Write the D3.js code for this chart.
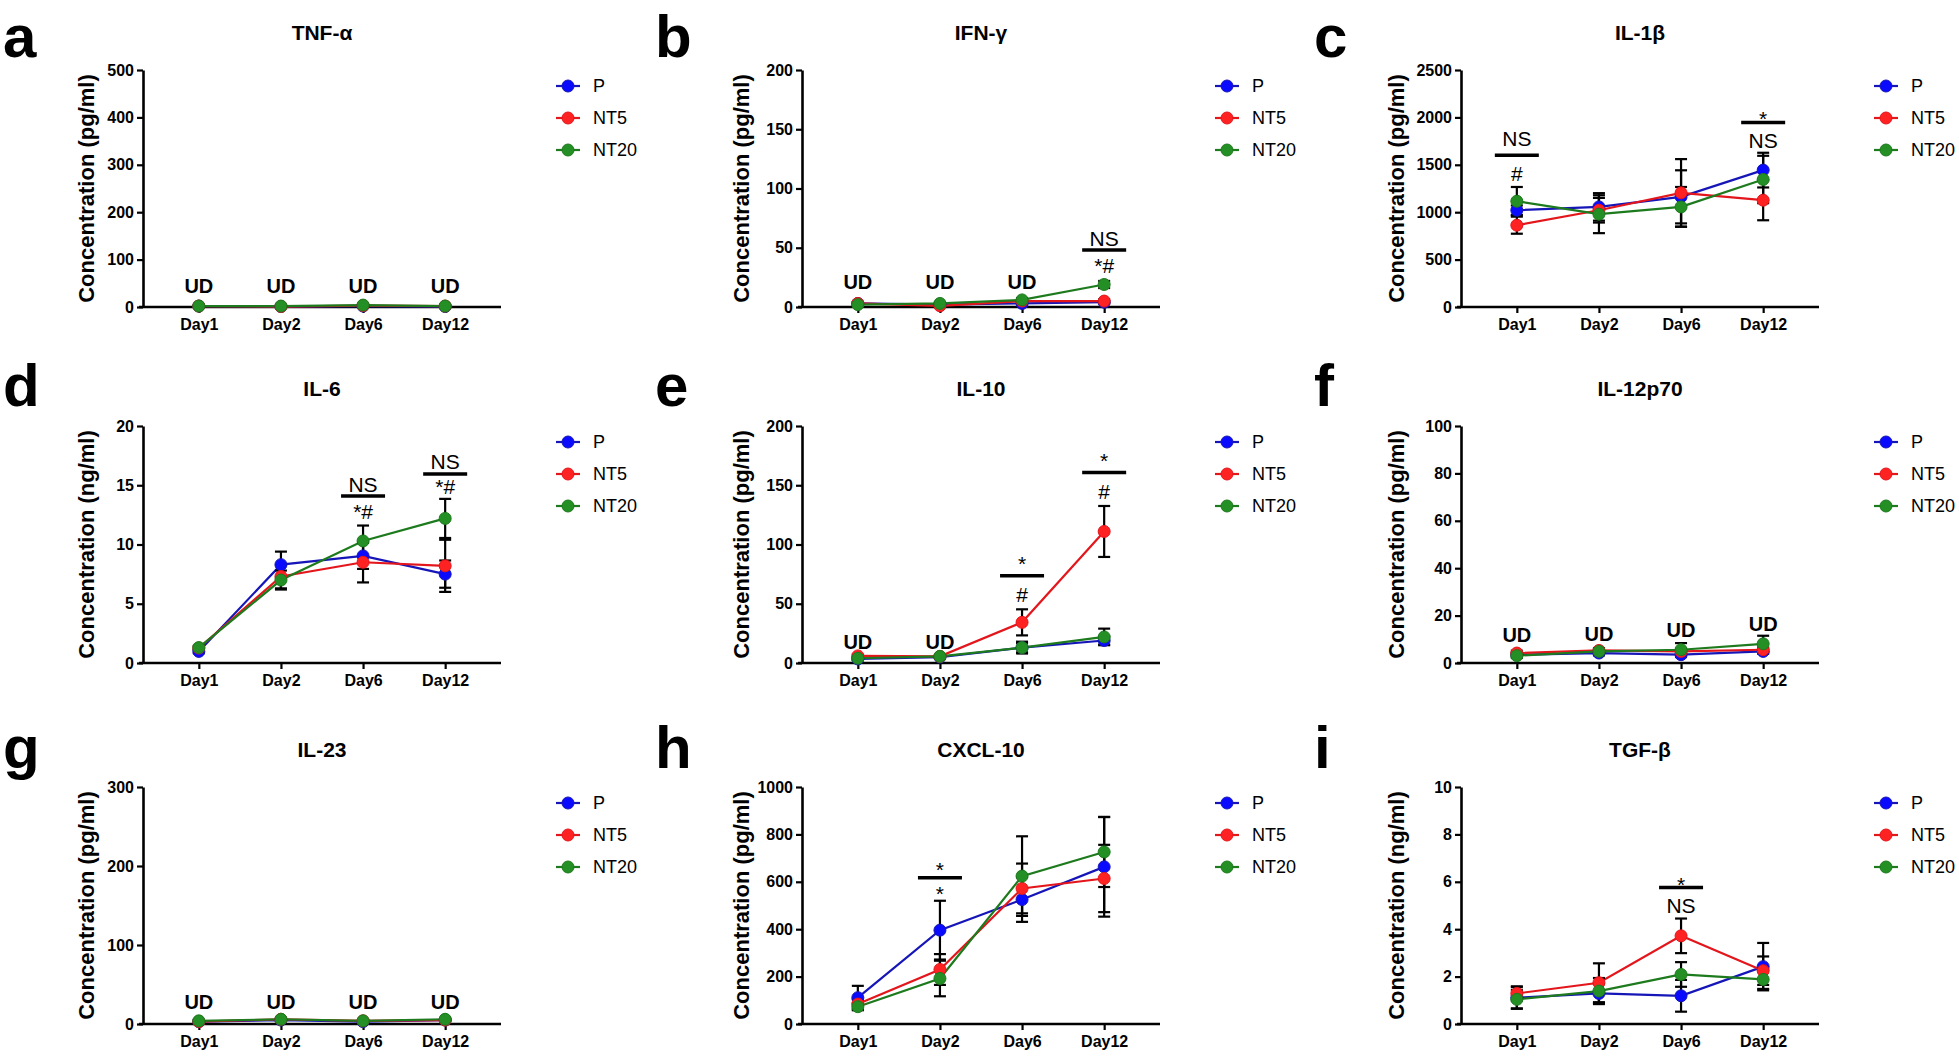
<!DOCTYPE html>
<html><head><meta charset="utf-8">
<script src="https://cdn.jsdelivr.net/npm/d3@7"></script>
<style>body{margin:0;background:#fff} svg{display:block}</style>
</head><body>
<svg id="chart" width="1959" height="1056"></svg>
<script>
// ---------- data ----------
const days = ["Day1", "Day2", "Day6", "Day12"];
const groups = ["P", "NT5", "NT20"];
const letters = ["a", "b", "c", "d", "e", "f", "g", "h", "i"];
const titles = ["TNF-α", "IFN-γ", "IL-1β", "IL-6", "IL-10", "IL-12p70", "IL-23", "CXCL-10", "TGF-β"];
const units = ["pg/ml", "pg/ml", "pg/ml", "ng/ml", "pg/ml", "pg/ml", "pg/ml", "pg/ml", "ng/ml"];
const yMaxes = [500, 200, 2500, 20, 200, 100, 300, 1000, 10];
const yTickSteps = [100, 50, 500, 5, 50, 20, 100, 200, 2];

// means: rows = P, NT5, NT20 ; columns = Day1, Day2, Day6, Day12
const tnfMean = [[2, 1, 2, 1], [2, 1, 3, 2], [2, 2, 4, 2]];
const tnfSD   = [[1, 1, 1, 1], [1, 1, 1, 1], [1, 1, 1, 1]];
const ifnMean = [[3, 2, 3, 4], [3, 1, 5, 5], [2, 3, 6, 19]];
const ifnSD   = [[1, 1, 1, 1], [1, 1, 1, 1.5], [1, 1, 1.5, 3]];
const il1Mean = [[1021, 1056, 1162, 1444], [863, 1021, 1204, 1127], [1116, 979, 1056, 1345]];
const il1SD   = [[50, 145, 280, 183], [90, 130, 356, 212], [150, 200, 210, 250]];
const il6Mean = [[0.98, 8.3, 9.04, 7.5], [1.26, 7.3, 8.5, 8.2], [1.3, 7.0, 10.3, 12.2]];
const il6SD   = [[0.15, 1.1, 1.1, 1.15], [0.15, 1.0, 1.7, 2.2], [0.15, 0.8, 1.3, 1.65]];
const il10Mean = [[3.4, 5, 13, 19], [6, 5.6, 34.3, 111], [4, 5.6, 13, 22]];
const il10SD   = [[1, 1, 4, 3.5], [1, 1, 11, 21.5], [1, 1, 5, 7]];
const il12Mean = [[3.5, 4.2, 3.5, 4.9], [4.2, 5.3, 4.9, 5.6], [3.1, 4.9, 5.6, 8.1]];
const il12SD   = [[1, 1, 1, 1], [1, 1, 1.2, 1], [1, 1, 2.8, 3.4]];
const il23Mean = [[3, 5, 3, 5], [3, 6, 4, 5], [4, 6, 4, 6]];
const il23SD   = [[1, 1, 1, 1], [1, 1, 1, 1], [1, 1, 1, 1]];
const cxclMean = [[111, 396, 525, 663], [84, 230, 572, 614], [73, 192, 624, 726]];
const cxclSD   = [[50, 124, 94, 210], [20, 65, 105, 142], [15, 75, 168, 148]];
const tgfMean = [[1.11, 1.29, 1.19, 2.42], [1.29, 1.74, 3.72, 2.25], [1.04, 1.39, 2.09, 1.88]];
const tgfSD   = [[0.45, 0.4, 0.67, 1.0], [0.3, 0.82, 0.73, 0.6], [0.4, 0.55, 0.52, 0.4]];

// annotation texts: [day, text, value at text centre]
const tnfNotes  = [["Day1", "UD", 44], ["Day2", "UD", 44], ["Day6", "UD", 44], ["Day12", "UD", 44]];
const ifnNotes  = [["Day1", "UD", 21], ["Day2", "UD", 21], ["Day6", "UD", 21], ["Day12", "NS", 57.7], ["Day12", "*#", 35]];
const il1Notes  = [["Day1", "NS", 1778], ["Day1", "#", 1408], ["Day12", "*", 2042], ["Day12", "NS", 1760]];
const il6Notes  = [["Day6", "NS", 15.1], ["Day6", "*#", 12.8], ["Day12", "NS", 17.0], ["Day12", "*#", 14.9]];
const il10Notes = [["Day1", "UD", 18.3], ["Day2", "UD", 18.3], ["Day6", "*", 88.5], ["Day6", "#", 57.6], ["Day12", "*", 175.6], ["Day12", "#", 144.7]];
const il12Notes = [["Day1", "UD", 12], ["Day2", "UD", 12.4], ["Day6", "UD", 14], ["Day12", "UD", 16.6]];
const il23Notes = [["Day1", "UD", 28], ["Day2", "UD", 28], ["Day6", "UD", 28], ["Day12", "UD", 28]];
const cxclNotes = [["Day2", "*", 674], ["Day2", "*", 572]];
const tgfNotes  = [["Day6", "*", 6.14], ["Day6", "NS", 5.01]];
// significance bars: [day, value]
const tnfBars = [], il12Bars = [], il23Bars = [];
const ifnBars = [["Day12", 48]];
const il1Bars = [["Day1", 1602], ["Day12", 1947]];
const il6Bars = [["Day6", 14.1], ["Day12", 15.95]];
const il10Bars = [["Day6", 73.6], ["Day12", 160.7]];
const cxclBars = [["Day2", 617]];
const tgfBars = [["Day6", 5.76]];

const means = [tnfMean, ifnMean, il1Mean, il6Mean, il10Mean, il12Mean, il23Mean, cxclMean, tgfMean];
const sds = [tnfSD, ifnSD, il1SD, il6SD, il10SD, il12SD, il23SD, cxclSD, tgfSD];
const notes = [tnfNotes, ifnNotes, il1Notes, il6Notes, il10Notes, il12Notes, il23Notes, cxclNotes, tgfNotes];
const sigBars = [tnfBars, ifnBars, il1Bars, il6Bars, il10Bars, il12Bars, il23Bars, cxclBars, tgfBars];

// ---------- style / layout ----------
const lineColor = {P: "#1616b8", NT5: "#e3161c", NT20: "#1d7a1d"};
const dotColor = {P: "#0a0aff", NT5: "#ff2222", NT20: "#248f24"};
const FONT = "'Liberation Sans', Arial, Helvetica, sans-serif";
const colX = [0, 659, 1318];
const rowTop = [70, 426, 787];
const rowZero = [307, 663, 1024];
const rowLetter = [57, 406, 768];
const labelGap = [57, 61, 65];
const axisL = 143, axisR = 501;

const svg = d3.select("#chart").style("font-family", FONT);

letters.forEach((letter, i) => {
  const col = i % 3, row = Math.floor(i / 3);
  const g = svg.append("g").attr("transform", `translate(${colX[col]},0)`);
  const top = rowTop[row], zero = rowZero[row];

  const x = d3.scalePoint().domain(days).range([axisL, axisR]).padding(0.68);
  const y = d3.scaleLinear().domain([0, yMaxes[i]]).range([zero, top]);

  // panel letter
  g.append("text").attr("x", col === 0 ? 3 : -4).attr("y", rowLetter[row])
    .attr("font-size", 60).attr("font-weight", "bold").attr("fill", "#000").text(letter);
  // title
  g.append("text").attr("x", (axisL + axisR) / 2).attr("y", top - 38).attr("dy", "0.36em")
    .attr("text-anchor", "middle").attr("font-size", 21).attr("font-weight", "bold").text(titles[i]);

  // axes
  const ticks = d3.range(0, yMaxes[i] + yTickSteps[i] / 2, yTickSteps[i]);
  const ya = g.append("g").attr("transform", `translate(${axisL},0)`)
    .call(d3.axisLeft(y).tickValues(ticks).tickFormat(d3.format("d")).tickSize(6).tickSizeOuter(0).tickPadding(3));
  const xa = g.append("g").attr("transform", `translate(0,${zero})`)
    .call(d3.axisBottom(x).tickSize(6).tickSizeOuter(0).tickPadding(6));
  [ya, xa].forEach(a => {
    a.select(".domain").attr("stroke", "#000").attr("stroke-width", 2.6);
    a.selectAll(".tick line").attr("stroke", "#000").attr("stroke-width", 2.2);
    a.selectAll(".tick text").attr("fill", "#000").attr("font-size", 16).attr("font-weight", "bold")
      .attr("font-family", FONT);
  });
  xa.select(".domain").attr("d", `M${axisL - 4},0H${axisR}`);

  // y label
  g.append("text")
    .attr("transform", `translate(${axisL - labelGap[col]},${(top + zero) / 2}) rotate(-90)`)
    .attr("text-anchor", "middle").attr("dy", "0.36em")
    .attr("font-size", 22).attr("font-weight", "bold")
    .text(`Concentration (${units[i]})`);

  // lines
  const line = d3.line().x((d, k) => x(days[k])).y(d => y(d));
  groups.forEach((grp, s) => {
    g.append("path").datum(means[i][s]).attr("d", line)
      .attr("fill", "none").attr("stroke", lineColor[grp]).attr("stroke-width", 2.2);
  });
  // error bars
  groups.forEach((grp, s) => {
    means[i][s].forEach((m, k) => {
      const sd = sds[i][s][k], cx = x(days[k]);
      const eg = g.append("g").attr("stroke", "#000").attr("stroke-width", 2.2);
      eg.append("line").attr("x1", cx).attr("x2", cx).attr("y1", y(m - sd)).attr("y2", y(m + sd));
      [m - sd, m + sd].forEach(v => eg.append("line").attr("x1", cx - 6).attr("x2", cx + 6).attr("y1", y(v)).attr("y2", y(v)));
    });
  });
  // markers
  groups.forEach((grp, s) => {
    g.selectAll(null).data(means[i][s]).enter().append("circle")
      .attr("cx", (d, k) => x(days[k])).attr("cy", d => y(d)).attr("r", 6)
      .attr("fill", dotColor[grp]).attr("stroke", lineColor[grp]).attr("stroke-width", 1);
  });

  // significance bars
  sigBars[i].forEach(([day, v]) => {
    g.append("line").attr("x1", x(day) - 22).attr("x2", x(day) + 22)
      .attr("y1", y(v)).attr("y2", y(v)).attr("stroke", "#000").attr("stroke-width", 3.5);
  });
  // annotation texts
  notes[i].forEach(([day, txt, v]) => {
    const ud = txt === "UD";
    g.append("text").attr("x", x(day)).attr("y", y(v))
      .attr("dy", txt === "*" ? "0.62em" : "0.36em")
      .attr("text-anchor", "middle")
      .attr("font-size", ud ? 20 : 21).attr("font-weight", ud ? "bold" : "normal")
      .text(txt);
  });

  // legend
  groups.forEach((grp, s) => {
    const ly = top + 16 + 32 * s;
    g.append("line").attr("x1", 556).attr("x2", 580).attr("y1", ly).attr("y2", ly)
      .attr("stroke", lineColor[grp]).attr("stroke-width", 2.2);
    g.append("circle").attr("cx", 568).attr("cy", ly).attr("r", 6)
      .attr("fill", dotColor[grp]).attr("stroke", lineColor[grp]).attr("stroke-width", 1);
    g.append("text").attr("x", 593).attr("y", ly).attr("dy", "0.36em")
      .attr("font-size", 18).text(grp);
  });
});
</script>
</body></html>
